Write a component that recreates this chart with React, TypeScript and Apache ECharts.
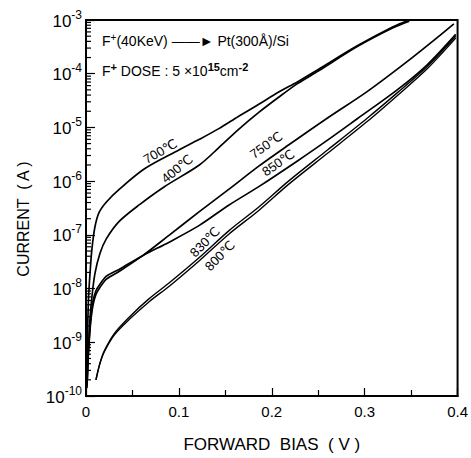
import React, { useEffect, useRef } from "react";
import * as echarts from "echarts";

// Forward bias (V) and current (A), one pair of arrays per anneal temperature
const v700 = [0.001, 0.0016, 0.0027, 0.0043, 0.0064, 0.0096, 0.014, 0.022, 0.036, 0.063, 0.1, 0.122, 0.143, 0.164, 0.186, 0.207, 0.228, 0.25, 0.292, 0.33, 0.348];
const i700 = [1.6e-10, 1.2e-9, 6.5e-9, 1.9e-8, 5.5e-8, 1.4e-7, 2.6e-7, 4.1e-7, 7.1e-7, 1.7e-6, 3.8e-6, 6.0e-6, 9.5e-6, 1.6e-5, 2.7e-5, 4.5e-5, 7.1e-5, 1.2e-4, 3.3e-4, 7.4e-4, 1.0e-3];

const v400 = [0.0015, 0.0027, 0.0043, 0.0064, 0.0096, 0.015, 0.022, 0.036, 0.058, 0.084, 0.122, 0.143, 0.164, 0.186, 0.207, 0.228, 0.25, 0.292, 0.33, 0.348];
const i400 = [2.0e-10, 7.8e-10, 2.8e-9, 7.1e-9, 1.9e-8, 4.5e-8, 8.5e-8, 1.8e-7, 3.7e-7, 7.8e-7, 2.0e-6, 4.2e-6, 9.1e-6, 1.9e-5, 3.6e-5, 6.6e-5, 1.12e-4, 3.2e-4, 7.1e-4, 9.5e-4];

const v750 = [0.001, 0.002, 0.0037, 0.0053, 0.0075, 0.0107, 0.015, 0.022, 0.036, 0.061, 0.09, 0.122, 0.154, 0.186, 0.218, 0.26, 0.303, 0.346, 0.378, 0.396];
const i750 = [1.4e-10, 4.1e-10, 1.2e-9, 2.6e-9, 4.9e-9, 7.8e-9, 1.05e-8, 1.5e-8, 2.1e-8, 4.1e-8, 1.0e-7, 2.7e-7, 7.1e-7, 1.9e-6, 4.7e-6, 1.5e-5, 4.7e-5, 1.7e-4, 4.7e-4, 8.5e-4];

const v850 = [0.001, 0.002, 0.0037, 0.0053, 0.0075, 0.0107, 0.015, 0.022, 0.036, 0.061, 0.09, 0.122, 0.154, 0.186, 0.228, 0.26, 0.292, 0.335, 0.367, 0.398];
const i850 = [1.5e-10, 5.0e-10, 1.4e-9, 3.0e-9, 5.8e-9, 9.1e-9, 1.2e-8, 1.7e-8, 2.3e-8, 4.1e-8, 7.4e-8, 1.5e-7, 3.6e-7, 7.9e-7, 2.4e-6, 5.8e-6, 1.45e-5, 5.0e-5, 1.45e-4, 5.4e-4];

const v830 = [0.0107, 0.015, 0.02, 0.031, 0.047, 0.068, 0.09, 0.122, 0.154, 0.186, 0.218, 0.26, 0.303, 0.335, 0.367, 0.398];
const i830 = [2.0e-10, 4.1e-10, 7.1e-10, 1.5e-9, 3.0e-9, 6.5e-9, 1.3e-8, 3.8e-8, 1.2e-7, 3.3e-7, 1.0e-6, 3.8e-6, 1.5e-5, 4.4e-5, 1.35e-4, 5.0e-4];

const v800 = [0.0107, 0.015, 0.02, 0.031, 0.047, 0.068, 0.09, 0.122, 0.154, 0.186, 0.218, 0.26, 0.303, 0.335, 0.367, 0.398];
const i800 = [2.0e-10, 4.0e-10, 6.8e-10, 1.4e-9, 2.7e-9, 5.7e-9, 1.12e-8, 3.3e-8, 1.04e-7, 2.85e-7, 8.7e-7, 3.3e-6, 1.3e-5, 3.9e-5, 1.22e-4, 4.6e-4];

// Curve labels: text and the (V, I) point where each label sits
const curveNames = ["700℃", "400℃", "750℃", "850℃", "830℃", "800℃"];
const labelV = [0.08, 0.098, 0.194, 0.207, 0.128, 0.144];
const labelI = [3.6e-6, 1.7e-6, 4.7e-6, 2.2e-6, 7.4e-8, 4.1e-8];
const labelRot = [30, 40, 35, 35, 45, 45];

// Axes
const xTicks = [0, 0.1, 0.2, 0.3, 0.4];
const decades = [-10, -9, -8, -7, -6, -5, -4, -3];
const minorMultipliers = [2, 3, 4, 5, 6, 7, 8, 9];

const FONT = "'Liberation Sans', 'DejaVu Sans', sans-serif";

function pairs(v: number[], i: number[]) {
  return v.map((x, k) => [x, i[k]]);
}

export default function App() {
  const ref = useRef<HTMLDivElement>(null);
  useEffect(() => {
    if (!ref.current) return;
    const chart = echarts.init(ref.current, undefined, { renderer: "svg" });

    const curves = [
      pairs(v700, i700),
      pairs(v400, i400),
      pairs(v750, i750),
      pairs(v850, i850),
      pairs(v830, i830),
      pairs(v800, i800),
    ];

    const minorTickData: number[][] = [];
    decades.slice(0, -1).forEach((d) => {
      minorMultipliers.forEach((m) => minorTickData.push([0, m * Math.pow(10, d)]));
    });

    const lineSeries = curves.map((data, k) => ({
      type: "line",
      data,
      showSymbol: false,
      symbol: "none",
      smooth: 0.3,
      lineStyle: { color: "#000", width: k >= 4 ? 1.4 : 1.7 },
      silent: true,
      z: 3,
      markPoint: {
        symbol: "circle",
        symbolSize: 0,
        silent: true,
        data: [
          {
            coord: [labelV[k], labelI[k]],
            label: {
              show: true,
              position: "inside",
              formatter: curveNames[k],
              rotate: labelRot[k],
              color: "#000",
              fontSize: 13,
              fontFamily: FONT,
            },
          },
        ],
      },
    }));

    const option: any = {
      animation: false,
      backgroundColor: "#fff",
      grid: {
        left: 86,
        top: 20,
        width: 375,
        height: 378,
        show: true,
        borderColor: "#000",
        borderWidth: 2,
        backgroundColor: "transparent",
      },
      xAxis: {
        type: "value",
        min: 0,
        max: 0.4,
        interval: 0.1,
        name: "FORWARD  BIAS  ( V )",
        nameLocation: "middle",
        nameGap: 40,
        nameTextStyle: { fontSize: 17, color: "#000", fontFamily: FONT },
        axisLine: { show: true, lineStyle: { color: "#000", width: 2 } },
        axisTick: { show: true, inside: true, length: 8, lineStyle: { color: "#000", width: 1.2 } },
        minorTick: { show: true, splitNumber: 2, length: 6, lineStyle: { color: "#000", width: 1.2 } },
        splitLine: { show: false },
        axisLabel: {
          margin: 8,
          fontSize: 15,
          color: "#000",
          fontFamily: FONT,
          showMinLabel: true,
          showMaxLabel: true,
          formatter: (v: number) => {
            const hit = xTicks.find((t) => Math.abs(t - v) < 1e-9);
            return hit === undefined ? "" : String(hit);
          },
        },
      },
      yAxis: {
        type: "log",
        logBase: 10,
        min: 1e-10,
        max: 1e-3,
        interval: 1,
        splitNumber: 7,
        name: "CURRENT  ( A )",
        nameLocation: "middle",
        nameRotate: 90,
        nameGap: 55,
        nameTextStyle: { fontSize: 16, color: "#000", fontFamily: FONT, padding: [0, 22, 0, 0] },
        axisLine: { show: true, lineStyle: { color: "#000", width: 2 } },
        axisTick: { show: true, inside: true, length: 9, lineStyle: { color: "#000", width: 1.2 } },
        minorTick: { show: false },
        splitLine: { show: false },
        axisLabel: {
          margin: 4,
          color: "#000",
          fontFamily: FONT,
          formatter: (v: number) => {
            const e = Math.round(Math.log10(v));
            return `{b|10}{s|${e}}`;
          },
          rich: {
            b: { fontSize: 17, fontFamily: FONT, color: "#000", verticalAlign: "bottom", lineHeight: 19 },
            s: { fontSize: 12, fontFamily: FONT, color: "#000", verticalAlign: "bottom", lineHeight: 19, padding: [0, 0, 9, 0] },
          },
        },
      },
      series: [
        ...lineSeries,
        {
          type: "custom",
          data: minorTickData,
          silent: true,
          z: 4,
          renderItem: (params: any, api: any) => {
            const p = api.coord([api.value(0), api.value(1)]);
            return {
              type: "line",
              shape: { x1: p[0], y1: p[1], x2: p[0] + 5, y2: p[1] },
              style: { stroke: "#000", lineWidth: 1.2 },
            };
          },
        },
      ],
      graphic: [
        {
          type: "text",
          left: 102,
          top: 32,
          style: {
            text: "{n|F}{s|+}{n|(40KeV) ——► Pt(300Å)/Si}",
            rich: {
              n: { fontSize: 14, fontFamily: FONT, fill: "#000", verticalAlign: "bottom", lineHeight: 17 },
              s: { fontSize: 10, fontFamily: FONT, fill: "#000", verticalAlign: "bottom", lineHeight: 17, padding: [0, 0, 6, 0] },
            },
          },
        },
        {
          type: "text",
          left: 102,
          top: 61,
          style: {
            text: "{n|F}{s|+}{n| DOSE : 5 ×10}{s|15}{n|cm}{s|-2}",
            rich: {
              n: { fontSize: 14, fontFamily: FONT, fill: "#000", verticalAlign: "bottom", lineHeight: 17 },
              s: { fontSize: 11, fontFamily: FONT, fill: "#000", fontWeight: "bold", verticalAlign: "bottom", lineHeight: 17, padding: [0, 0, 6, 0] },
            },
          },
        },
      ],
    };

    chart.setOption(option);
    return () => chart.dispose();
  }, []);

  return (
    <div
      ref={ref}
      style={{ position: "absolute", left: 0, top: 0, width: 471, height: 458, background: "#fff" }}
    />
  );
}
